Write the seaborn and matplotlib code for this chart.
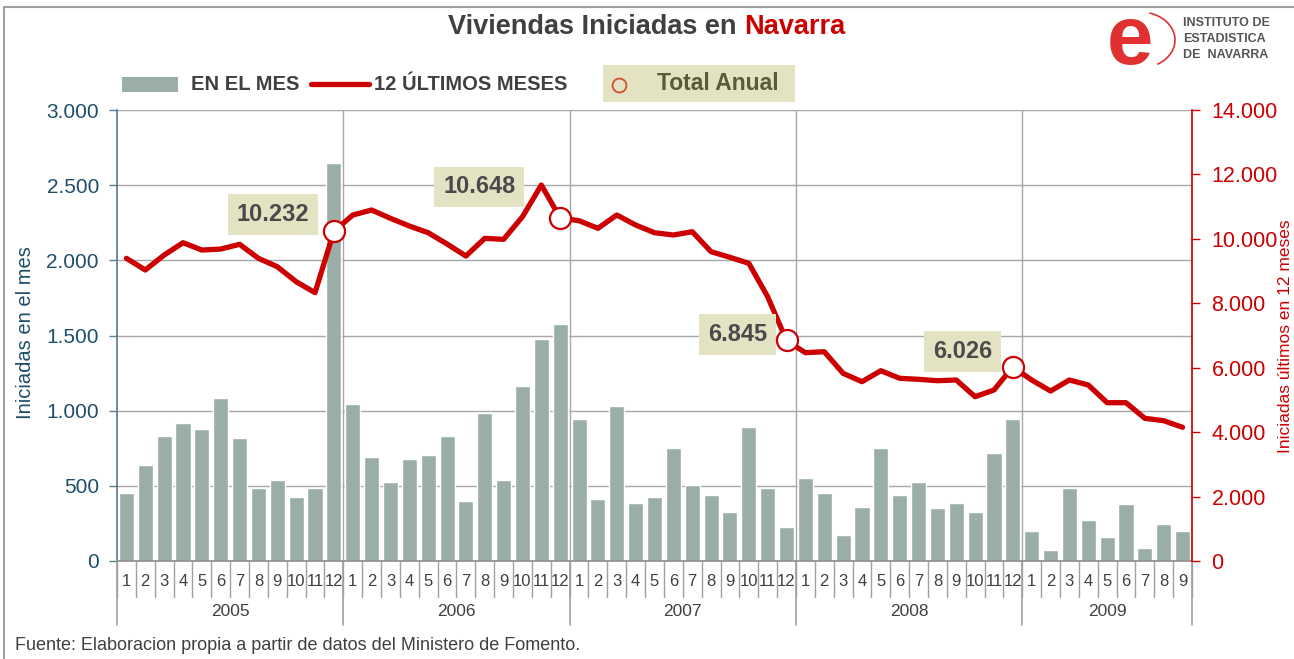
import numpy as np
import pandas as pd
import matplotlib
matplotlib.use('Agg')
import matplotlib.pyplot as plt
import matplotlib.transforms as mtransforms
from matplotlib.patches import Rectangle, Arc
from matplotlib.lines import Line2D
from matplotlib.ticker import FuncFormatter
import seaborn as sns

# Datos
meses = list(range(1, 13)) * 4 + list(range(1, 10))
anios = [2005] * 12 + [2006] * 12 + [2007] * 12 + [2008] * 12 + [2009] * 9

en_el_mes = [450, 638, 831, 918, 880, 1084, 818, 488, 539, 426, 488, 2647,
             1044, 690, 528, 676, 703, 831, 401, 982, 539, 1164, 1474, 1576,
             942, 412, 1033, 388, 426, 754, 503, 439, 326, 893, 488, 224,
             552, 450, 173, 361, 754, 439, 528, 350, 388, 326, 716, 942,
             200, 73, 488, 275, 162, 377, 86, 248, 200]

ultimos_12 = [9396, 9033, 9498, 9880, 9653, 9684, 9830, 9396, 9135, 8670, 8329, 10232,
              10740, 10895, 10637, 10398, 10191, 9840, 9467, 10016, 9985, 10687, 11671, 10648,
              10563, 10327, 10740, 10429, 10191, 10119, 10222, 9601, 9427, 9241, 8204, 6845,
              6466, 6497, 5826, 5566, 5907, 5671, 5640, 5597, 5618, 5100, 5308, 6026,
              5618, 5277, 5618, 5463, 4914, 4914, 4429, 4355, 4150]

df = pd.DataFrame({'pos': np.arange(len(en_el_mes)), 'mes': meses, 'anio': anios,
                   'en_el_mes': en_el_mes, 'ultimos_12': ultimos_12})

# Colores
GRIS_BARRA = '#9aada6'
ROJO = '#cc0000'
AZUL = '#1f4e6b'
GRIS_TXT = '#404040'
GRID = '#a8a8a8'
BEIGE = '#e3e3c4'

sns.set_theme(style='white')
plt.rcParams['font.family'] = ['Liberation Sans', 'DejaVu Sans']

W, H = 1294, 659
fig = plt.figure(figsize=(W / 100, H / 100), dpi=100)
fig.patch.set_facecolor('white')


def fx(x):
    return x / W


def fy(y):
    return 1 - y / H


ax = fig.add_axes([fx(117), 98 / H, 1075 / W, 451 / H])
ax2 = ax.twinx()

# Barras mensuales
sns.barplot(data=df, x='pos', y='en_el_mes', color=GRIS_BARRA, saturation=1,
            width=0.8, native_scale=True, ax=ax, zorder=2)
ax.set_xlim(-0.5, len(df) - 0.5)
ax.set_ylim(0, 3000)
ax.set_yticks(np.arange(0, 3001, 500))
fmt = FuncFormatter(lambda v, p: f"{int(v):,}".replace(',', '.'))
ax.yaxis.set_major_formatter(fmt)
ax.set_axisbelow(True)
ax.grid(axis='y', color=GRID, lw=1)
ax.grid(axis='x', visible=False)

# separadores de anio dentro del grafico
limites = [i - 0.5 for i in range(1, len(df)) if anios[i] != anios[i - 1]]
for b in limites:
    ax.axvline(b, color=GRID, lw=1, zorder=0)

ax.set_xticks(df['pos'])
ax.set_xticklabels(df['mes'])
ax.tick_params(axis='x', length=0, pad=9, labelsize=12, labelcolor=GRIS_TXT)
ax.tick_params(axis='y', length=6, width=1, color='#5b7f95', pad=7,
               labelsize=15, labelcolor=AZUL, left=True)
ax.set_xlabel('')
ax.set_ylabel('')
for s in ['top', 'right']:
    ax.spines[s].set_visible(False)
ax.spines['left'].set_color('#5b7f95')
ax.spines['bottom'].set_color('#909090')

# eje de categorias en dos niveles
trans = mtransforms.blended_transform_factory(ax.transData, ax.transAxes)
for b in np.arange(-0.5, len(df), 1.0):
    ax.plot([b, b], [0, -36 / 451], transform=trans, color='#a0a0a0', lw=1, clip_on=False)
for b in [-0.5] + limites + [len(df) - 0.5]:
    ax.plot([b, b], [0, -64 / 451], transform=trans, color='#a0a0a0', lw=1.2, clip_on=False)
for a in sorted(set(anios)):
    centro = df.loc[df['anio'] == a, 'pos'].mean()
    ax.text(centro, -51 / 451, str(a), transform=trans, ha='center', va='center',
            fontsize=12.5, color=GRIS_TXT)

# Linea 12 ultimos meses
sns.lineplot(data=df, x='pos', y='ultimos_12', color=ROJO, lw=3.8, ax=ax2,
             solid_capstyle='round', solid_joinstyle='round', zorder=3)
dic = df[df['mes'] == 12]
sns.scatterplot(data=dic, x='pos', y='ultimos_12', s=230, color='white',
                edgecolor=ROJO, linewidth=1.6, ax=ax2, zorder=4)
ax2.set_ylim(0, 14000)
ax2.set_yticks(np.arange(0, 14001, 2000))
ax2.yaxis.set_major_formatter(fmt)
ax2.tick_params(axis='y', length=6, width=1, color=ROJO, pad=8,
                labelsize=15.5, labelcolor=ROJO, right=True)
ax2.set_ylabel('')
ax2.set_xlabel('')
ax2.grid(False)
for s in ['top', 'left', 'bottom']:
    ax2.spines[s].set_visible(False)
ax2.spines['right'].set_color(ROJO)

# etiquetas Total Anual
desplaz = [(-61, 17), (-81, 31), (-49, 6), (-50, 15)]
for (_, row), (dx, dy) in zip(dic.iterrows(), desplaz):
    ax2.annotate(f"{row['ultimos_12']:,}".replace(',', '.'),
                 xy=(row['pos'], row['ultimos_12']), xytext=(dx, dy),
                 textcoords='offset pixels', ha='center', va='center',
                 fontsize=17, fontweight='bold', color='#4a4a4a',
                 bbox=dict(boxstyle='square,pad=0.38', fc=BEIGE, ec='none'))

# Titulos de ejes
fig.text(fx(26), fy(333), 'Iniciadas en el mes', rotation=90, ha='center', va='center',
         fontsize=14.5, color=AZUL)
fig.text(fx(1285.5), fy(336), 'Iniciadas últimos en 12 meses', rotation=90, ha='center',
         va='center', fontsize=12.5, color=ROJO)

# Titulo
t1 = fig.text(fx(448), fy(27), 'Viviendas Iniciadas en ', ha='left', va='center',
              fontsize=19.5, fontweight='bold', color=GRIS_TXT)
fig.canvas.draw()
bb = t1.get_window_extent()
fig.text(bb.x1 / W, fy(27), 'Navarra', ha='left', va='center',
         fontsize=19.5, fontweight='bold', color=ROJO)

# Leyenda
fig.patches.append(Rectangle((fx(122), fy(92)), 56 / W, 15 / H, transform=fig.transFigure,
                             fc=GRIS_BARRA, ec='none'))
fig.text(fx(191), fy(84), 'EN EL MES', ha='left', va='center', fontsize=14.5,
         fontweight='bold', color=GRIS_TXT)
fig.lines.append(Line2D([fx(311), fx(369)], [fy(84), fy(84)], transform=fig.transFigure,
                        color=ROJO, lw=3.8, solid_capstyle='round'))
fig.text(fx(374), fy(84), '12 ÚLTIMOS MESES', ha='left', va='center', fontsize=14.5,
         fontweight='bold', color=GRIS_TXT)
fig.patches.append(Rectangle((fx(603), fy(102)), 192 / W, 37 / H, transform=fig.transFigure,
                             fc=BEIGE, ec='none'))
fig.lines.append(Line2D([fx(619)], [fy(85)], transform=fig.transFigure, marker='o',
                        markersize=10, mfc='none', mec='#d05030', mew=1.3, ls='none'))
fig.text(fx(657), fy(84), 'Total Anual', ha='left', va='center', fontsize=16.5,
         fontweight='bold', color='#5b5b3c')

# Logo
fig.text(fx(1130), fy(42), 'e', ha='center', va='center', fontsize=60,
         fontweight='bold', color='#e03030')
fig.patches.append(Arc((fx(1140), fy(40)), 70 / W, 56 / H, theta1=-70, theta2=80,
                       transform=fig.transFigure, color='#e03030', lw=1.2))
for i, linea in enumerate(['INSTITUTO DE', 'ESTADISTICA', 'DE  NAVARRA']):
    fig.text(fx(1183), fy(23 + 16 * i), linea, ha='left', va='center', fontsize=9,
             fontweight='bold', color='#555555')

# Fuente
fig.text(fx(15), fy(645), 'Fuente: Elaboracion propia a partir de datos del Ministero de Fomento.',
         ha='left', va='center', fontsize=13, color=GRIS_TXT)

# Marco
fig.patches.append(Rectangle((fx(4), -0.05), 1.1, fy(7) + 0.05, transform=fig.transFigure,
                             fc='none', ec='#a0a0a0', lw=1.5))

fig.savefig('out.png', dpi=100)
